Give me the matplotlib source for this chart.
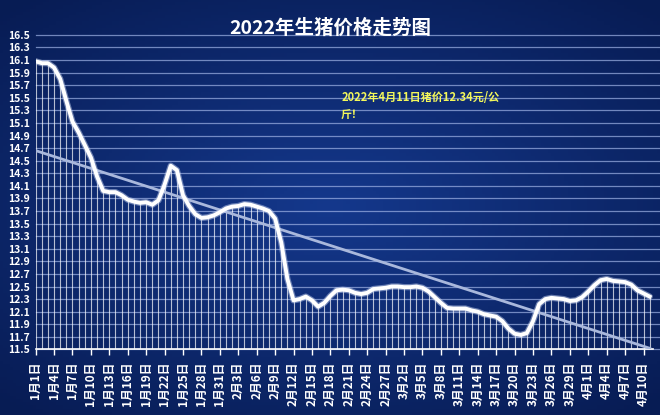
import matplotlib
matplotlib.use("Agg")
import matplotlib.pyplot as plt
import numpy as np
import datetime as dt

plt.rcParams['font.family'] = ['Noto Sans CJK SC', 'DejaVu Sans']

# 2022-01-01 .. 2022-04-11, daily pig price (yuan/kg)
start = dt.date(2022, 1, 1)
prices = [16.08, 16.05, 16.05, 15.98, 15.80, 15.45, 15.12, 14.95, 14.75, 14.55,
          14.25, 14.02, 14.00, 14.00, 13.95, 13.88, 13.85, 13.83, 13.84, 13.80,
          13.87, 14.12, 14.42, 14.35, 13.95, 13.78, 13.65, 13.59, 13.60, 13.63,
          13.68, 13.74, 13.77, 13.78, 13.81, 13.80, 13.77, 13.74, 13.70, 13.58,
          13.20, 12.62, 12.28, 12.30, 12.34, 12.28, 12.18, 12.24, 12.35, 12.44,
          12.45, 12.44, 12.40, 12.38, 12.40, 12.46, 12.47, 12.48, 12.50, 12.50,
          12.49, 12.49, 12.50, 12.48, 12.42, 12.33, 12.24, 12.16, 12.15, 12.15,
          12.15, 12.12, 12.10, 12.06, 12.04, 12.02, 11.95, 11.83, 11.75, 11.73,
          11.76, 11.95, 12.22, 12.30, 12.32, 12.31, 12.30, 12.27, 12.28, 12.33,
          12.42, 12.52, 12.60, 12.62, 12.59, 12.58, 12.57, 12.53, 12.44, 12.39,
          12.34]
dates = [start + dt.timedelta(days=k) for k in range(len(prices))]
labels = [f"{d.month}月{d.day}日" for d in dates]
y_ticks = np.round(np.arange(11.5, 16.51, 0.2), 1)

title = "2022年生猪价格走势图"
note = "2022年4月11日猪价12.34元/公\n斤！"

x = np.arange(len(prices))
y = np.array(prices)

fig = plt.figure(figsize=(6.6, 4.15), dpi=100)

# background gradient
bg = fig.add_axes([0, 0, 1, 1], zorder=-1)
gx, gy = np.meshgrid(np.linspace(-1, 1, 200), np.linspace(-1, 1, 130))
r = np.sqrt(gx**2 * 0.8 + gy**2)
c0 = np.array([0.08, 0.22, 0.55])
c1 = np.array([0.03, 0.11, 0.33])
t = np.clip(r / 1.3, 0, 1)[..., None]
bg.imshow(c0 * (1 - t) + c1 * t, aspect='auto', extent=[0, 1, 0, 1])
bg.axis('off')

ax = fig.add_axes([0.054, 0.158, 0.935, 0.758])
ax.set_facecolor('none')

# gridlines
for v in y_ticks:
    ax.axhline(v, color='#9fb3e6', lw=0.9, alpha=0.7, zorder=1, clip_on=False, xmax=1.01)

# drop lines
ax.vlines(x, 11.5, y, color='white', lw=0.8, alpha=0.7, zorder=2)

# linear trend
k, b = np.polyfit(x, y, 1)
ax.plot(x, k * x + b, color='#a9b8dc', lw=2.0, zorder=3)

ax.plot(x, y, color='#c8d4f0', lw=4.5, alpha=0.5, zorder=4, solid_capstyle='round')
ax.plot(x, y, color='white', lw=2.8, zorder=5, solid_joinstyle='round')

ax.set_xlim(0, 100.5)
ax.set_ylim(11.5, 16.5)
ax.set_yticks(y_ticks)
ax.set_yticklabels([f"{v:.1f}" for v in y_ticks])
ax.set_xticks(x[::3])
ax.set_xticklabels(labels[::3], rotation=90)

for s in ['top', 'right', 'left']:
    ax.spines[s].set_visible(False)
ax.spines['bottom'].set_color('white')
ax.spines['bottom'].set_linewidth(1.2)
ax.tick_params(axis='y', length=0, colors='white', labelsize=7.5, pad=4)
ax.tick_params(axis='x', length=4, width=1, colors='white', labelsize=8.5, pad=5)
for lab in ax.get_xticklabels() + ax.get_yticklabels():
    lab.set_fontweight('bold')

fig.text(0.5, 0.933, title, color='white', fontsize=14, fontweight='bold',
         ha='center', va='center')
ax.text(0.495, 0.822, note, transform=ax.transAxes, color='#f4f85a', fontsize=8,
        fontweight='bold', va='top', ha='left', linespacing=1.5)

fig.savefig('out.png', dpi=100)
